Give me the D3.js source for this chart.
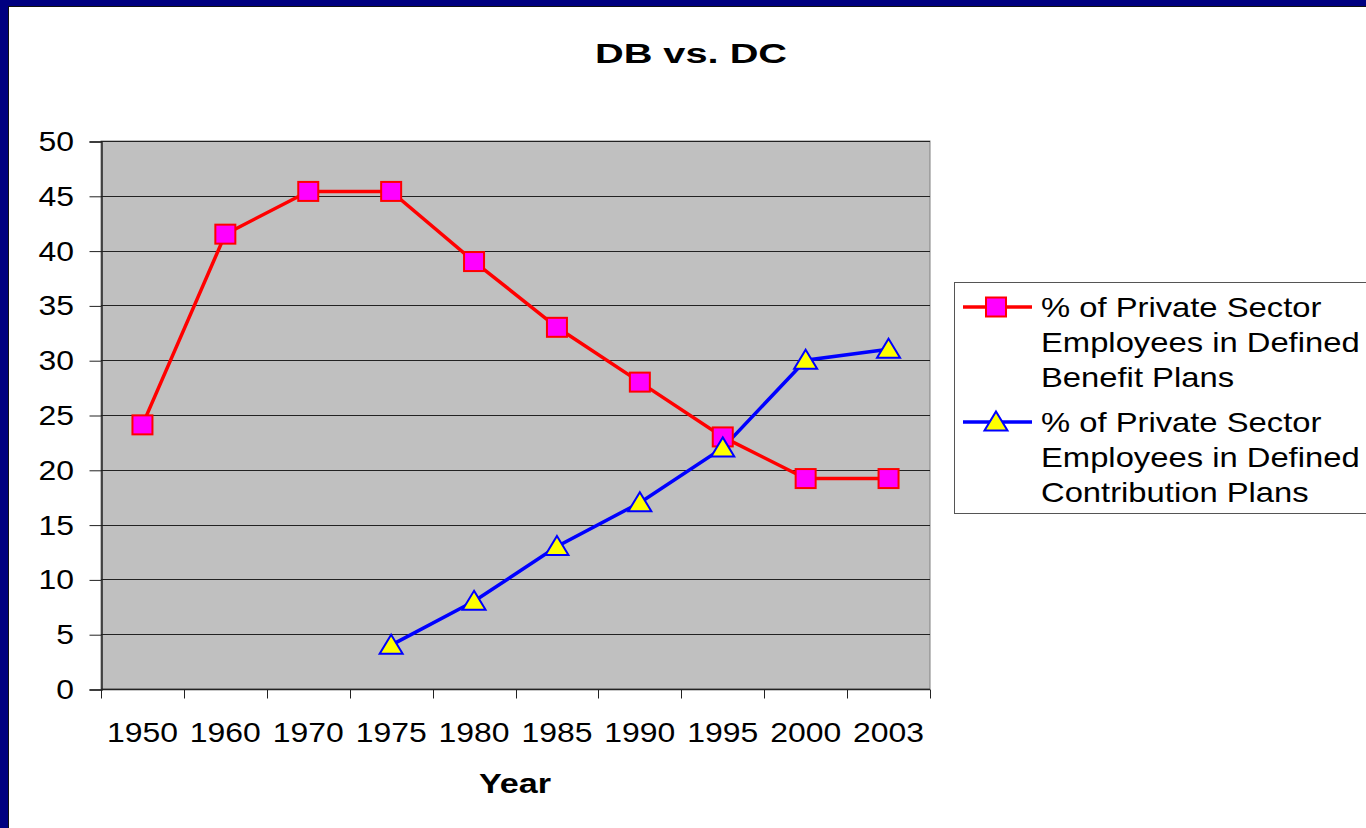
<!DOCTYPE html>
<html>
<head>
<meta charset="utf-8">
<script src="https://cdn.jsdelivr.net/npm/d3@7"></script>
<style>
  body { margin: 0; background: #fff; overflow: hidden; }
  svg text { font-family: "Liberation Sans", Arial, sans-serif; fill: #000; }
</style>
</head>
<body>
<svg id="chart"></svg>
<script>
"use strict";
// data
var years = ["1950", "1960", "1970", "1975", "1980", "1985", "1990", "1995", "2000", "2003"];
var dbValues = [24.1, 41.5, 45.4, 45.4, 39, 33, 28, 23, 19.2, 19.2];
var dcValues = [null, null, null, 4, 8, 13, 17, 22, 30, 31];
var yTicks = [0, 5, 10, 15, 20, 25, 30, 35, 40, 45, 50];
var dbLabel = ["% of Private Sector", "Employees in Defined", "Benefit Plans"];
var dcLabel = ["% of Private Sector", "Employees in Defined", "Contribution Plans"];

var svgWidth = 1366, svgHeight = 828;
var plotLeft = 101, plotRight = 930, plotTop = 141, plotBottom = 689;

var svg = d3.select("#chart").attr("width", svgWidth).attr("height", svgHeight);

// the slide was stretched sideways, so text is widened a bit
function label(parent, x, y, str, size, sx, anchor, bold) {
  return parent.append("text")
    .attr("transform", "translate(" + x + "," + y + ") scale(" + sx + ",1)")
    .attr("text-anchor", anchor || "start")
    .attr("font-size", size)
    .attr("font-weight", bold ? "bold" : "normal")
    .text(str);
}

// navy slide frame
svg.append("rect").attr("x", 0).attr("y", 0).attr("width", svgWidth).attr("height", 6).attr("fill", "#000080");
svg.append("rect").attr("x", 0).attr("y", 0).attr("width", 8).attr("height", svgHeight).attr("fill", "#000080");
svg.append("line").attr("x1", 8.5).attr("x2", 8.5).attr("y1", 6).attr("y2", svgHeight).attr("stroke", "#111").attr("stroke-width", 1);
svg.append("line").attr("x1", 8).attr("x2", svgWidth).attr("y1", 6.5).attr("y2", 6.5).attr("stroke", "#111").attr("stroke-width", 1);

var x = d3.scaleBand().domain(years).range([plotLeft, plotRight]).padding(0);
var y = d3.scaleLinear().domain([0, 50]).range([plotBottom, plotTop]);
var cx = function(d) { return x(d) + x.bandwidth() / 2; };

// plot area
svg.append("rect").attr("x", plotLeft).attr("y", plotTop).attr("width", plotRight - plotLeft).attr("height", plotBottom - plotTop)
  .attr("fill", "#C0C0C0").attr("stroke", "#808080").attr("stroke-width", 1);

// gridlines
svg.append("g").selectAll("line").data(yTicks.filter(function(d) { return d > 0; })).enter().append("line")
  .attr("x1", plotLeft).attr("x2", plotRight)
  .attr("y1", function(d) { return Math.round(y(d)) + 0.5; })
  .attr("y2", function(d) { return Math.round(y(d)) + 0.5; })
  .attr("stroke", "#222").attr("stroke-width", 1);

// y axis
var yAxis = svg.append("g").attr("transform", "translate(" + (plotLeft + 0.5) + ",0.5)")
  .call(d3.axisLeft(y).tickValues(yTicks).tickSize(12).tickFormat(""));
yAxis.select(".domain").attr("stroke", "#222").attr("stroke-width", 1.5);
yAxis.selectAll(".tick line").attr("stroke", "#222");
yTicks.forEach(function(t) {
  label(svg, 74, y(t) + 10, String(t), 28, 1.14, "end");
});

// x axis with ticks between categories
var xAxis = svg.append("g").attr("transform", "translate(0," + (plotBottom + 0.5) + ")");
xAxis.append("line").attr("x1", plotLeft).attr("x2", plotRight).attr("y1", 0).attr("y2", 0).attr("stroke", "#222").attr("stroke-width", 1.5);
var edges = years.map(function(d) { return x(d); }).concat([plotRight]);
xAxis.selectAll(".xt").data(edges).enter().append("line")
  .attr("x1", function(d) { return Math.round(d) + 0.5; }).attr("x2", function(d) { return Math.round(d) + 0.5; })
  .attr("y1", 0).attr("y2", 9).attr("stroke", "#222");
years.forEach(function(d) {
  label(svg, cx(d), 742, d, 28, 1.14, "middle");
});

// titles
label(svg, 691, 63, "DB vs. DC", 28, 1.42, "middle", true);
label(svg, 515, 793, "Year", 28, 1.22, "middle", true);

// lines
var dbData = years.map(function(d, i) { return { year: d, v: dbValues[i] }; });
var dcData = years.map(function(d, i) { return { year: d, v: dcValues[i] }; }).filter(function(d) { return d.v !== null; });
var line = d3.line().x(function(d) { return cx(d.year); }).y(function(d) { return y(d.v); });

svg.append("path").datum(dbData).attr("d", line).attr("fill", "none").attr("stroke", "#FF0000").attr("stroke-width", 3.5);
svg.append("path").datum(dcData).attr("d", line).attr("fill", "none").attr("stroke", "#0000FF").attr("stroke-width", 3.5);

function square(g) {
  g.append("rect").attr("x", -10).attr("y", -9.5).attr("width", 20).attr("height", 19)
    .attr("fill", "#FF00FF").attr("stroke", "#FF0000").attr("stroke-width", 2);
}
function triangle(g) {
  g.append("path").attr("d", "M0,-10.5 L11.5,8.5 L-11.5,8.5 Z")
    .attr("fill", "#FFFF00").attr("stroke", "#0000FF").attr("stroke-width", 2);
}

svg.append("g").selectAll("g").data(dbData).enter().append("g")
  .attr("transform", function(d) { return "translate(" + cx(d.year) + "," + y(d.v) + ")"; })
  .each(function() { square(d3.select(this)); });
svg.append("g").selectAll("g").data(dcData).enter().append("g")
  .attr("transform", function(d) { return "translate(" + cx(d.year) + "," + y(d.v) + ")"; })
  .each(function() { triangle(d3.select(this)); });

// legend
var legend = svg.append("g");
legend.append("rect").attr("x", 954.5).attr("y", 282.5).attr("width", 430).attr("height", 231)
  .attr("fill", "#fff").attr("stroke", "#555").attr("stroke-width", 1);
var entries = [
  { label: dbLabel, color: "#FF0000", marker: square, y0: 307 },
  { label: dcLabel, color: "#0000FF", marker: triangle, y0: 422 }
];
entries.forEach(function(e) {
  legend.append("line").attr("x1", 963).attr("x2", 1032).attr("y1", e.y0).attr("y2", e.y0)
    .attr("stroke", e.color).attr("stroke-width", 3.5);
  var m = legend.append("g").attr("transform", "translate(996," + e.y0 + ")");
  e.marker(m);
  e.label.forEach(function(t, i) {
    label(legend, 1041, e.y0 + 10 + i * 35, t, 28, 1.17);
  });
});
</script>
</body>
</html>
